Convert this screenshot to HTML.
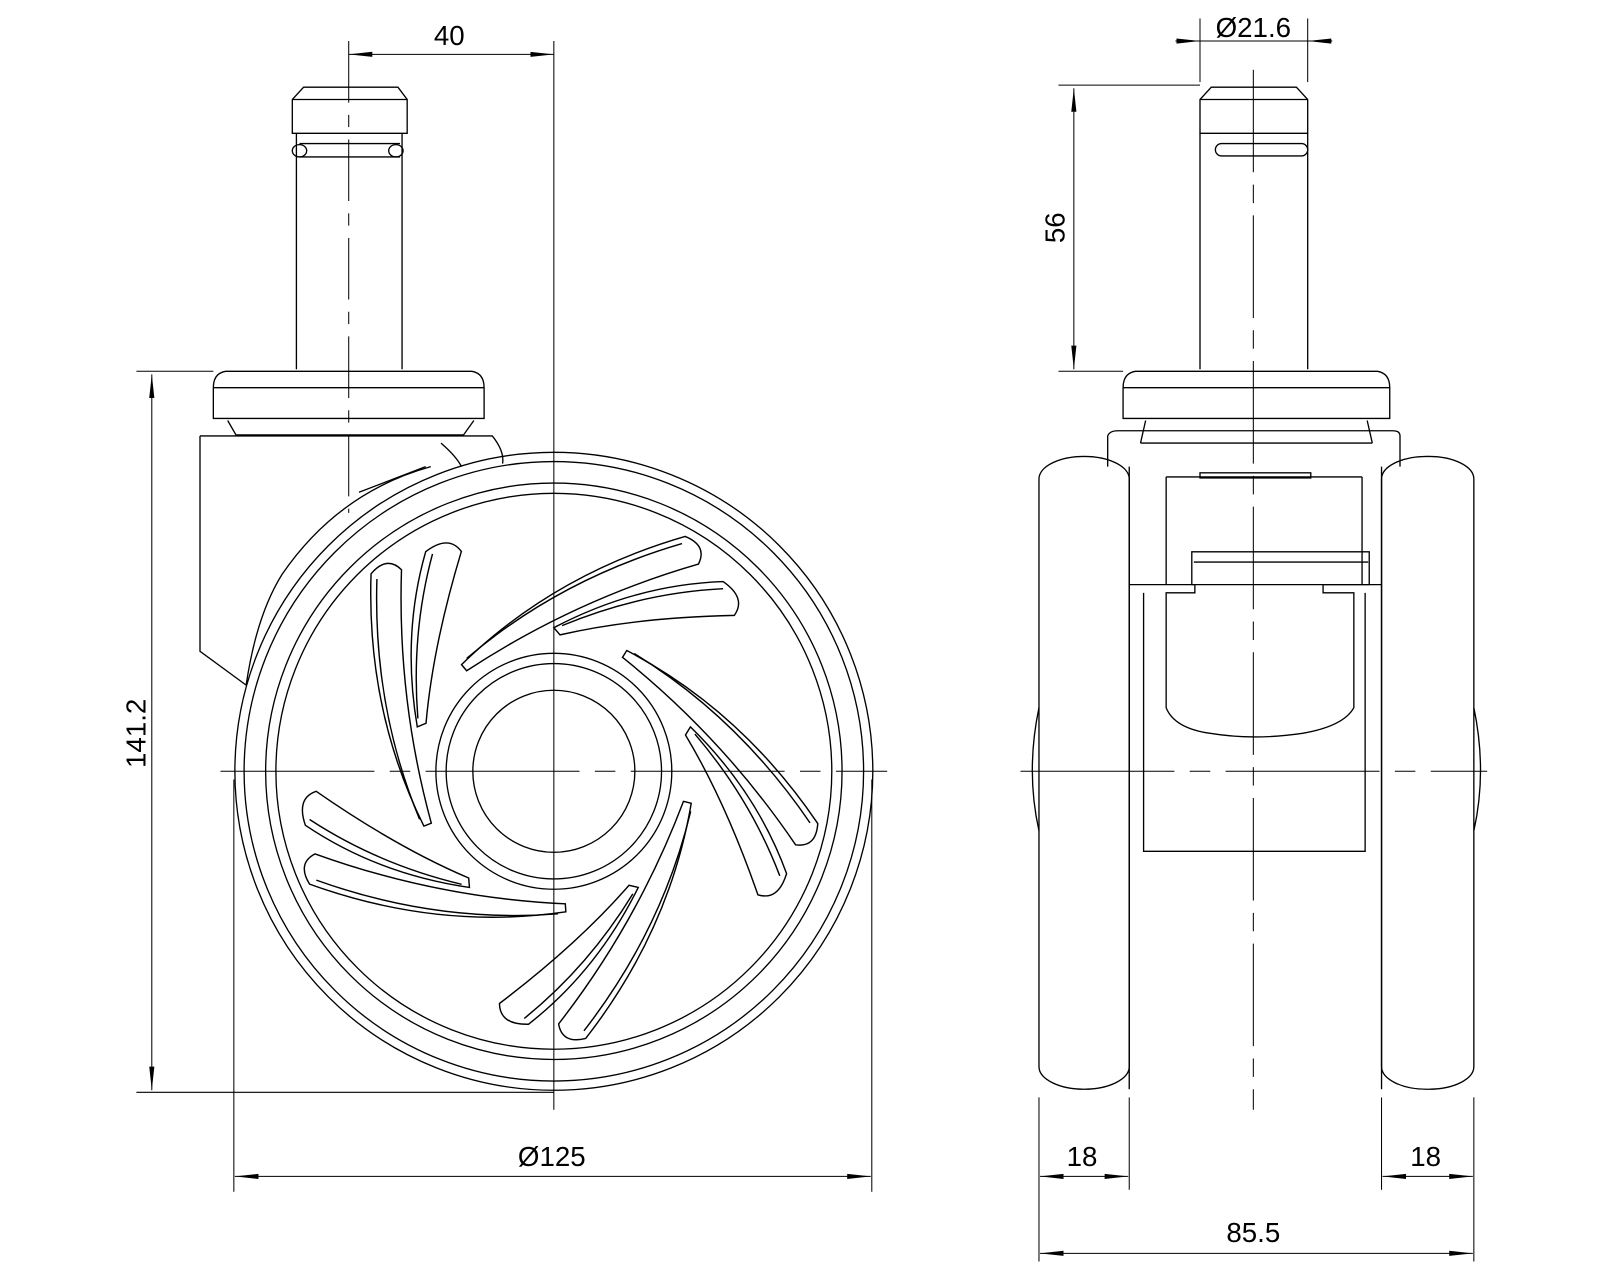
<!DOCTYPE html>
<html><head><meta charset="utf-8"><style>
html,body{margin:0;padding:0;background:#fff}
svg{display:block}
text{font-family:"Liberation Sans",sans-serif;font-size:27px;fill:#000}
</style></head><body>
<svg width="1600" height="1280" viewBox="0 0 1560 1248" xmlns="http://www.w3.org/2000/svg">
<defs>
<marker id="a" markerWidth="24" markerHeight="8" refX="23" refY="4" orient="auto-start-reverse" markerUnits="userSpaceOnUse"><path d="M0,1.5 L23,4 L0,6.5 Z" fill="#000"/></marker>
<g id="pair" fill="none" stroke="#000" stroke-width="1.4">
<path d="M450,648 Q540,560 668,523 Q690,532 681,550 Q560,585 455,654 Z"/>
<path d="M455,642 Q545,565 665,530"/>
<path d="M540,612 Q620,570 705,567 Q728,583 716,600 Q620,602 546,619 Z"/>
<path d="M548,610 Q625,578 705,574"/>
</g>
</defs>
<g fill="none" stroke="#000" stroke-width="1.3">
<!-- LEFT VIEW -->
<!-- stem -->
<path d="M296,85 H388 L397,97 V130 H285 V97 Z"/>
<line x1="285" y1="97" x2="397" y2="97"/>
<path d="M289,130 V360 M392,130 V360"/>
<path d="M292,140 H390 M292,153 H390"/>
<ellipse cx="292" cy="147" rx="7" ry="6"/><ellipse cx="386" cy="147" rx="7" ry="6"/>
<!-- base disc -->
<path d="M220,362 H460 Q472,364 472,378 V408 H208 V378 Q208,364 220,362 Z"/>
<path d="M208,378 H472"/>
<path d="M222,410 L230,424 H452 L462,410"/>
<!-- housing -->
<path d="M195,425 H480 Q492,440 490,452 M195,425 V635 L240,668"/>
<path d="M430,432 Q445,445 450,455 M415,455 L350,480"/>
<path d="M240,668 Q250,600 275,560 Q330,480 420,455"/>
<!-- wheel -->
<circle cx="540" cy="752" r="311"/>
<circle cx="540" cy="752" r="302"/>
<circle cx="540" cy="752" r="281"/>
<circle cx="540" cy="752" r="271"/>
<circle cx="540" cy="752" r="115"/>
<circle cx="540" cy="752" r="105"/>
<circle cx="540" cy="752" r="79"/>
<use href="#pair"/>
<use href="#pair" transform="rotate(72 540 752)"/>
<use href="#pair" transform="rotate(144 540 752)"/>
<use href="#pair" transform="rotate(216 540 752)"/>
<use href="#pair" transform="rotate(288 540 752)"/>
<!-- center lines -->
<line x1="340" y1="40" x2="340" y2="500" stroke-dasharray="60,12,12,12" stroke-width="1"/>
<line x1="540" y1="40" x2="540" y2="1082" stroke-width="1"/>
<line x1="215" y1="752" x2="865" y2="752" stroke-width="1" stroke-dasharray="150,15,20,15"/>
<!-- dims left -->
<line x1="340" y1="53" x2="540" y2="53" marker-start="url(#a)" marker-end="url(#a)" stroke-width="1"/>
<line x1="133" y1="362" x2="208" y2="362" stroke-width="1"/>
<line x1="133" y1="1065" x2="540" y2="1065" stroke-width="1"/>
<line x1="148" y1="365" x2="148" y2="1063" marker-start="url(#a)" marker-end="url(#a)" stroke-width="1"/>
<line x1="228" y1="760" x2="228" y2="1162" stroke-width="1"/>
<line x1="850" y1="760" x2="850" y2="1162" stroke-width="1"/>
<line x1="229" y1="1147" x2="849" y2="1147" marker-start="url(#a)" marker-end="url(#a)" stroke-width="1"/>

<!-- RIGHT VIEW -->
<path d="M1181,85 H1264 L1275,97 V130 H1170 V97 Z"/>
<line x1="1170" y1="97" x2="1275" y2="97"/>
<path d="M1170,130 V360 M1275,130 V360"/>
<rect x="1185" y="140" width="90" height="12" rx="6"/>
<path d="M1107,362 H1343 Q1355,364 1355,378 V408 H1095 V378 Q1095,364 1107,362 Z"/>
<path d="M1095,378 H1355"/>
<path d="M1117,410 L1112,432 M1333,410 L1338,432 M1112,432 H1338"/>
<path d="M1080,425 Q1082,420 1090,420 H1358 Q1365,420 1365,425 V455 M1080,425 V455"/>
<path d="M1137,465 H1328 M1137,465 V570 M1328,465 V570"/>
<rect x="1170" y="461" width="108" height="5"/>
<path d="M1162,538 H1335 V570 H1162 Z"/>
<path d="M1164,548 H1334"/>
<path d="M1101,570 H1165 V578 H1137 V690 Q1145,710 1180,715 Q1222,722 1270,715 Q1310,708 1320,690 V578 H1290 V570 H1347"/>
<path d="M1115,578 V830 H1331 V578"/>
<path d="M1101,455 V1062 M1347,455 V1062"/>
<!-- wheels -->
<rect x="1013" y="445" width="88" height="617" rx="44" ry="22"/>
<rect x="1347" y="445" width="90" height="617" rx="44" ry="22"/>
<path d="M1013,690 Q1000,752 1013,810 M1437,690 Q1450,752 1437,810"/>
<!-- center lines -->
<line x1="1222" y1="68" x2="1222" y2="1082" stroke-width="1" stroke-dasharray="100,12,18,12"/>
<line x1="995" y1="752" x2="1450" y2="752" stroke-width="1" stroke-dasharray="150,15,20,15"/>
<!-- dims right -->
<line x1="1170" y1="18" x2="1170" y2="80" stroke-width="1"/>
<line x1="1275" y1="18" x2="1275" y2="80" stroke-width="1"/>
<line x1="1146" y1="40" x2="1170" y2="40" marker-end="url(#a)" stroke-width="1"/>
<line x1="1299" y1="40" x2="1275" y2="40" marker-end="url(#a)" stroke-width="1"/>
<line x1="1170" y1="40" x2="1275" y2="40" stroke-width="1"/>
<line x1="1032" y1="83" x2="1170" y2="83" stroke-width="1"/>
<line x1="1032" y1="362" x2="1095" y2="362" stroke-width="1"/>
<line x1="1047" y1="86" x2="1047" y2="360" marker-start="url(#a)" marker-end="url(#a)" stroke-width="1"/>
<line x1="1013" y1="1070" x2="1013" y2="1230" stroke-width="1"/>
<line x1="1101" y1="1070" x2="1101" y2="1160" stroke-width="1"/>
<line x1="1347" y1="1070" x2="1347" y2="1160" stroke-width="1"/>
<line x1="1437" y1="1070" x2="1437" y2="1230" stroke-width="1"/>
<line x1="1014" y1="1147" x2="1100" y2="1147" marker-start="url(#a)" marker-end="url(#a)" stroke-width="1"/>
<line x1="1348" y1="1147" x2="1436" y2="1147" marker-start="url(#a)" marker-end="url(#a)" stroke-width="1"/>
<line x1="1014" y1="1222" x2="1436" y2="1222" marker-start="url(#a)" marker-end="url(#a)" stroke-width="1"/>
</g>
<text x="438" y="44" text-anchor="middle">40</text>
<text x="538" y="1137" text-anchor="middle">Ø125</text>
<text transform="translate(142,715) rotate(-90)" text-anchor="middle">141.2</text>
<text x="1222" y="36" text-anchor="middle">Ø21.6</text>
<text transform="translate(1038,222) rotate(-90)" text-anchor="middle">56</text>
<text x="1055" y="1137" text-anchor="middle">18</text>
<text x="1390" y="1137" text-anchor="middle">18</text>
<text x="1222" y="1211" text-anchor="middle">85.5</text>
</svg>
</body></html>
